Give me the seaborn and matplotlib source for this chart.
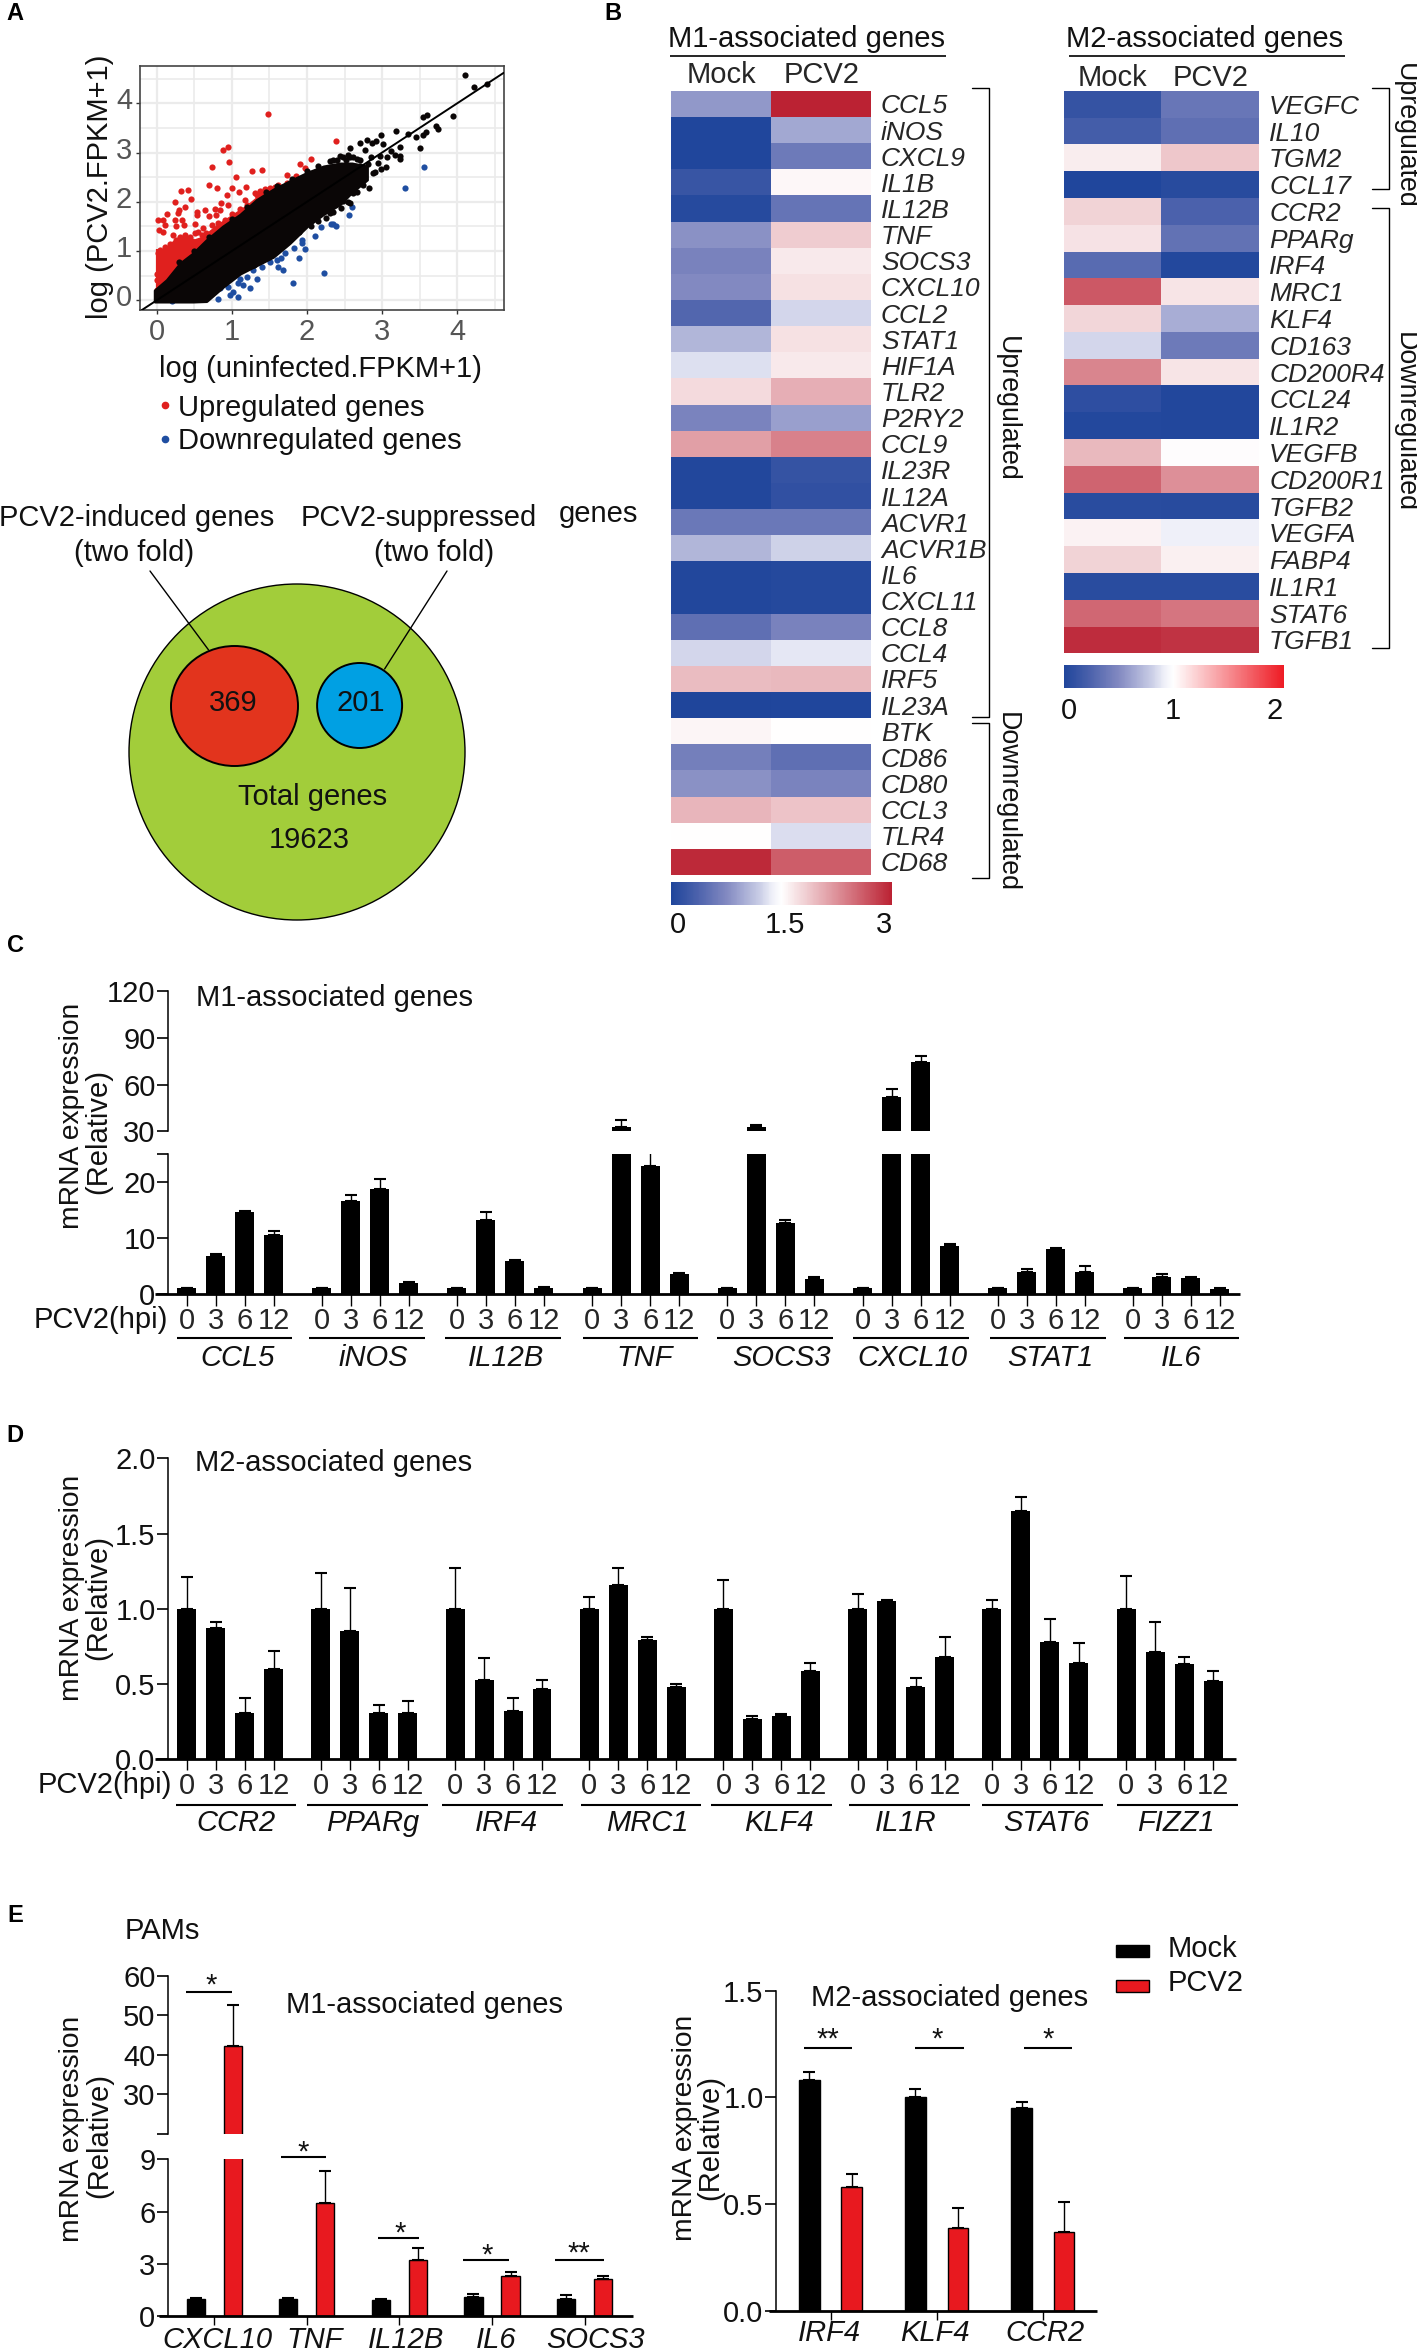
import matplotlib
matplotlib.use('Agg')
import matplotlib.pyplot as plt
from matplotlib.colors import LinearSegmentedColormap, Normalize
from matplotlib.cm import ScalarMappable
from matplotlib.patches import Ellipse, Rectangle
from matplotlib.transforms import ScaledTranslation
import seaborn as sns
import pandas as pd

W, H = 1417, 2351

# panel A scatter
red_x = [1.48, 2.39, .95, .88, .96, .73, 1.40, 1.27, 1.05, 2.06, 1.91, 1.98, 1.74, 1.85, 1.73, .70, .80, 1.0, 1.19, .32, .42, 1.10, .46, .93, .24, .38, 1.18,
         1.31, 1.37, 1.44, 1.51, 1.57, 1.62, 1.34, 1.42, 1.48, 1.54, 1.40, 1.46,
         .30, .28, .13, .53, .54, .64, .69, .77, .86, .95, .84, .79, 1.0, 1.11, 1.20, 1.15, .97, 1.06, .24, .33, .08, .02, .11, .03, .08, .26, .36, .51, .62, .55, .73, .82, .77, .91, .51, .60, .66,
         .22, .31, .37, .44, .26, .35, .42, .17, .04, .11, .02, .22, .13, .31, .46, .55, .06, .15, .04, .13, .22, 0, .08, .17, 0, .08, 0, .28]
red_y = [3.79, 3.24, 3.11, 3.05, 2.80, 2.71, 2.64, 2.62, 2.51, 2.87, 2.77, 2.68, 2.55, 2.53, 2.38, 2.34, 2.28, 2.29, 2.30, 2.21, 2.23, 2.19, 2.06, 2.14, 1.99, 1.90, 2.04,
         2.18, 2.22, 2.25, 2.27, 2.31, 2.34, 2.14, 2.16, 2.18, 2.20, 2.07, 2.10,
         1.83, 1.78, 1.76, 1.80, 1.74, 1.83, 1.72, 1.86, 1.97, 1.93, 1.83, 1.73, 1.75, 1.86, 1.93, 1.76, 1.63, 1.69, 1.63, 1.63, 1.63, 1.63, 1.53, 1.42, 1.39, 1.51, 1.53, 1.54, 1.46, 1.39, 1.53, 1.56, 1.42, 1.63, 1.36, 1.32, 1.36,
         1.32, 1.29, 1.32, 1.29, 1.22, 1.15, 1.17, 1.15, 1.02, 1.08, .95, 1.08, .98, 1.05, .98, 1.15, .81, .85, .68, .71, .78, .54, .61, .64, .41, .37, .20, .88]
# solid red area along the cloud
red_area_x = [-.02, .1, .2, .3, .4, .5, .6, .8, 1.0, 1.2, 1.4, 1.6]
red_area_hi = [1.05, 1.05, 1.2, 1.3, 1.3, 1.25, 1.3, 1.55, 1.75, 1.95, 2.2, 2.33]
red_area_lo = [.1, .1, .4, .6, .8, .9, 1.0, 1.2, 1.4, 1.6, 1.9, 2.1]
blue_x = [2.34, 2.19, 2.11, 1.94, 1.94, 1.97, 1.83, 1.90, 2.23, 1.81, 1.71, 1.66, 1.60, 1.51, 1.68, 1.62, 1.40, 1.28, 1.33, 1.20, 1.11, 1.24, 1.08, .95, .84, 1.08, .97, .82, .64, .51, .31, .20, 1.02, 1.15, 3.56, 3.31, 2.60, 2.56, 2.32, 2.39]
blue_y = [1.54, 1.48, 1.31, 1.22, 1.16, 1.05, 1.07, .85, .56, .35, .95, .85, .82, .78, .61, .68, .68, .61, .44, .47, .44, .24, .34, .27, .24, .07, .10, .03, .14, .07, .03, -.02, .17, .31, 2.71, 2.28, 1.89, 1.74, 1.54, 1.51]
black_x = [4.11, 4.22, 4.40, 3.95, 3.54, 3.60, 3.72, 3.75, 3.59, 3.55, 3.45, 3.34, 3.50, 3.19, 2.98, 2.80, 2.70, 2.87, 2.92, 3.01, 2.57, 2.77, 3.24, 3.12, 3.17, 3.24, 3.24, 3.06, 2.97, 2.95, 2.99, 2.83, 2.88, 2.75, 2.59, 2.48, 2.35, 2.61, 2.57, 2.48, 2.30, 2.70, 2.81, 2.66, 2.57, 2.52, 2.66, 2.48, 2.57, 2.44,
           2.3, 2.4, 2.52, 2.61, 2.7, 2.55, 2.35, 2.45, 2.55, 2.66, 2.75, 2.25, 2.15, 1.9, 2.05, 1.7, 1.5, 1.3, 1.45, 1.6, 1.8, 2.0, 2.15, 1.2, 1.0, .7, .5, .3, 2.9, 3.05, 2.85]
black_y = [4.57, 4.33, 4.39, 3.74, 3.72, 3.76, 3.54, 3.47, 3.42, 3.35, 3.32, 3.37, 3.09, 3.43, 3.36, 3.26, 3.19, 3.19, 3.23, 3.17, 3.09, 3.05, 3.12, 3.03, 2.96, 2.86, 2.94, 2.90, 2.93, 2.78, 2.66, 2.28, 2.59, 2.52, 2.72, 2.90, 2.85, 2.18, 1.97, 2.01, 1.77, 2.72, 2.76, 2.86, 2.90, 2.59, 2.55, 2.31, 2.38, 2.93,
           2.82, 2.85, 2.84, 2.9, 2.85, 2.95, 1.8, 1.88, 2.0, 2.2, 2.35, 1.68, 1.6, 1.38, 1.5, 1.12, .9, .72, 2.2, 2.32, 2.47, 2.63, 2.72, 1.9, 1.65, 1.28, 1.0, .78, 2.6, 2.7, 2.9]
# outline of the solid black cloud
cloud_x = [-.03, .13, .31, .48, .66, .88, 1.11, 1.33, 1.55, 1.77, 2.0, 2.22, 2.44, 2.6, 2.8]
cloud_hi = [.20, .41, .75, .95, 1.22, 1.50, 1.74, 2.04, 2.25, 2.42, 2.59, 2.72, 2.78, 2.78, 2.72]
cloud_lo = [-.03, -.03, -.03, -.03, -.02, .27, .54, .71, .88, 1.16, 1.50, 1.75, 1.95, 2.2, 2.45]

# panel B heatmaps
m1_genes = ['CCL5', 'iNOS', 'CXCL9', 'IL1B', 'IL12B', 'TNF', 'SOCS3', 'CXCL10', 'CCL2', 'STAT1', 'HIF1A', 'TLR2', 'P2RY2', 'CCL9', 'IL23R', 'IL12A', 'ACVR1', 'ACVR1B', 'IL6', 'CXCL11', 'CCL8', 'CCL4', 'IRF5', 'IL23A', 'BTK', 'CD86', 'CD80', 'CCL3', 'TLR4', 'CD68']
m1_mock = [.85, .02, .02, .2, .06, .8, .68, .75, .4, 1.05, 1.3, 1.75, .7, 2.15, .03, .03, .58, 1.05, .03, .03, .5, 1.25, 1.95, 0, 1.56, .65, .8, 2.0, 1.5, 2.95]
m1_pcv2 = [3.0, .95, .6, 1.55, .55, 1.85, 1.65, 1.7, 1.25, 1.7, 1.65, 2.05, .9, 2.35, .18, .15, .58, 1.22, .05, .05, .68, 1.33, 1.98, .02, 1.5, .5, .7, 1.9, 1.28, 2.6]
m2_genes = ['VEGFC', 'IL10', 'TGM2', 'CCL17', 'CCR2', 'PPARg', 'IRF4', 'MRC1', 'KLF4', 'CD163', 'CD200R4', 'CCL24', 'IL1R2', 'VEGFB', 'CD200R1', 'TGFB2', 'VEGFA', 'FABP4', 'IL1R1', 'STAT6', 'TGFB1']
m2_mock = [.12, .2, 1.08, .01, 1.2, 1.13, .3, 1.75, 1.18, .83, 1.55, .08, .03, 1.32, 1.7, .06, 1.06, 1.2, .06, 1.68, 1.95]
m2_pcv2 = [.38, .33, 1.25, .05, .24, .35, .03, 1.12, .66, .4, 1.12, .02, .02, 1.01, 1.5, .05, .92, 1.07, .06, 1.62, 1.92]

# panel C
hpi = ['0', '3', '6', '12']
c_genes = ['CCL5', 'iNOS', 'IL12B', 'TNF', 'SOCS3', 'CXCL10', 'STAT1', 'IL6']
c_vals = [[1, 6.7, 14.6, 10.6], [1, 16.6, 18.8, 1.9], [1, 13.3, 5.9, 1.1], [1, 32.5, 22.8, 3.5],
          [1, 32.5, 12.7, 2.6], [1, 52.2, 74.5, 8.5], [1, 4.0, 8.0, 4.0], [1, 3.1, 2.9, .9]]
c_tops = [[1.1, 7.2, 14.8, 11.2], [1.1, 17.7, 20.6, 2.1], [1.1, 14.6, 6.1, 1.2], [1.1, 37.3, 27, 3.7],
          [1.1, 34, 13.2, 3.0], [1.1, 57.3, 78.4, 8.9], [1.1, 4.4, 8.3, 5.0], [1.1, 3.5, 3.0, 1.0]]

# panel D
d_genes = ['CCR2', 'PPARg', 'IRF4', 'MRC1', 'KLF4', 'IL1R', 'STAT6', 'FIZZ1']
d_vals = [[1, .87, .31, .60], [1, .85, .31, .31], [1, .53, .32, .47], [1, 1.16, .79, .48],
          [1, .27, .29, .59], [1, 1.05, .48, .68], [1, 1.65, .78, .64], [1, .71, .63, .52]]
d_tops = [[1.21, .91, .41, .72], [1.24, 1.14, .36, .39], [1.27, .67, .41, .53], [1.08, 1.27, .81, .50],
          [1.19, .29, .30, .64], [1.10, 1.06, .54, .81], [1.06, 1.74, .93, .77], [1.22, .91, .68, .59]]

# panel E
groups = ['Mock', 'PCV2']
e1_genes = ['CXCL10', 'TNF', 'IL12B', 'IL6', 'SOCS3']
e1_mock = [1, 1, .9, 1.1, 1.0]
e1_pcv2 = [42.3, 6.5, 3.2, 2.3, 2.1]
e1_mock_top = [1.05, 1.05, 1.0, 1.25, 1.2]
e1_pcv2_top = [52.6, 8.3, 3.9, 2.5, 2.3]
e2_genes = ['IRF4', 'KLF4', 'CCR2']
e2_mock = [1.08, 1.0, .95]
e2_pcv2 = [.58, .39, .37]
e2_mock_top = [1.12, 1.04, .98]
e2_pcv2_top = [.64, .48, .51]

sns.set_theme(style='ticks')
plt.rcParams['font.family'] = ['Liberation Sans', 'DejaVu Sans']
plt.rcParams['font.size'] = 21
plt.rcParams['text.color'] = '#111111'

FS = 21
RED = '#e8191f'
fig = plt.figure(figsize=(W / 100, H / 100), dpi=100)
fig.patch.set_facecolor('white')


def px_axes(x0, ytop, x1, ybot):
    return fig.add_axes([x0 / W, 1 - ybot / H, (x1 - x0) / W, (ybot - ytop) / H])


# everything that is not a chart mark goes on this overlay, in picture pixels
over = fig.add_axes([0, 0, 1, 1], zorder=10)
over.set_xlim(0, W)
over.set_ylim(H, 0)
over.axis('off')


def txt(x, y, s, size=FS, ha='center', **kw):
    over.text(x, y, s, fontsize=size, ha=ha, va='center', **kw)


def hline(x0, x1, y, lw=1.2, color='black'):
    over.plot([x0, x1], [y, y], color=color, lw=lw, solid_capstyle='butt')


def bracket(x0, x1, y0, y1):
    over.plot([x0, x1, x1, x0], [y0, y0, y1, y1], color='black', lw=1.0)


def letters(x, y, s):
    txt(x, y, s, size=17, fontweight='bold', color='black')


def ylabels(x1, y1, x2, y2):
    txt(x1, y1, 'mRNA expression', size=20.3, rotation=90)
    txt(x2, y2, '(Relative)', rotation=90)


def tall(genes, columns, names):
    rows = []
    for i, g in enumerate(genes):
        for name, col in zip(names, columns):
            rows.append({'gene': g, 'level': name, 'value': col[i]})
    return pd.DataFrame(rows)


def bars(ax, df, names, colors, width, gap, edge=None):
    sns.barplot(data=df, x='gene', y='value', hue='level', hue_order=names, palette=colors,
                width=width, gap=gap, saturation=1, errorbar=None, legend=False, ax=ax,
                edgecolor=edge, linewidth=1.0 if edge else 0)
    ax.set_xlabel('')
    ax.set_ylabel('')


def errs(ax, vals, tops, capsize=4):
    patches = sorted(ax.patches, key=lambda p: p.get_x())
    for p, v, t in zip(patches, vals, tops):
        ax.errorbar(p.get_x() + p.get_width() / 2, v, yerr=[[0], [t - v]], color='black',
                    elinewidth=1.0, capsize=capsize, capthick=1.5)
    return [p.get_x() + p.get_width() / 2 for p in patches]


def yaxis_style(ax):
    ax.patch.set_alpha(0)
    sns.despine(ax=ax, top=True, right=True, bottom=True)
    ax.spines['left'].set_linewidth(1.1)
    ax.spines['left'].set_color('black')
    ax.tick_params(axis='y', length=8, width=1.2, pad=1, labelsize=FS, color='black', labelcolor='#111111')


# ---------- A
ax = px_axes(140.4, 66, 503.6, 310)
ax.set_xlim(-.22, 4.62)
ax.set_ylim(-.2, 4.76)
ax.set_axisbelow(True)
ax.set_xticks([0, 1, 2, 3, 4])
ax.set_yticks([0, 1, 2, 3, 4])
ax.set_xticks([.5, 1.5, 2.5, 3.5, 4.5], minor=True)
ax.set_yticks([.5, 1.5, 2.5, 3.5, 4.5], minor=True)
ax.grid(True, which='major', color='#ebebeb', lw=1.6)
ax.grid(True, which='minor', color='#ebebeb', lw=1.2)
ax.tick_params(which='minor', length=0)
ax.tick_params(which='major', length=3, width=1, color='#333333', labelcolor='#555555', labelsize=FS, pad=3)
# the y labels sit a little above their ticks in the original
for lab in ax.get_yticklabels():
    lab.set_transform(lab.get_transform() + ScaledTranslation(0, 5 / 100, fig.dpi_scale_trans))
ax.fill_between(red_area_x, red_area_lo, red_area_hi, color='#e0201e', lw=0, zorder=2)
sns.scatterplot(x=red_x, y=red_y, color='#e0201e', s=20, linewidth=0, ax=ax, zorder=2)
sns.scatterplot(x=blue_x, y=blue_y, color='#1f4ea1', s=20, linewidth=0, ax=ax, zorder=2)
ax.fill_between(cloud_x, cloud_lo, cloud_hi, color='#0a0606', lw=2, zorder=3)
sns.scatterplot(x=black_x, y=black_y, color='#0a0606', s=20, linewidth=0, ax=ax, zorder=3)
ax.axline((0, 0), slope=1, color='black', lw=1.4, zorder=4)
for s in ax.spines.values():
    s.set_color('#444444')
    s.set_linewidth(1.2)
txt(100, 187, 'log (PCV2.FPKM+1)', rotation=90)
txt(320, 369, 'log (uninfected.FPKM+1)')
over.plot([164.6], [405], 'o', color='#e0201e', ms=4.5)
over.plot([164.6], [439], 'o', color='#1f4ea1', ms=4.5)
txt(178, 408, 'Upregulated genes', ha='left')
txt(178, 441, 'Downregulated genes', ha='left')
txt(137, 518, 'PCV2-induced genes')
txt(134, 553, '(two fold)')
txt(419, 518, 'PCV2-suppressed')
txt(434, 553, '(two fold)')
txt(559, 514, 'genes', ha='left')
over.add_patch(Ellipse((297, 752), 336, 336, fc='#a2cd3a', ec='black', lw=1.0))
over.add_patch(Ellipse((234.5, 706), 127, 120, fc='#e2341d', ec='black', lw=1.4))
over.add_patch(Ellipse((359.6, 705.5), 85, 85, fc='#00a0e3', ec='black', lw=1.4))
over.plot([150, 208.6], [571, 650], color='black', lw=1.0)
over.plot([447, 384.6], [571, 669], color='black', lw=1.0)
txt(233, 703, '369')
txt(361, 703, '201')
txt(312.7, 797, 'Total genes')
txt(309, 840, '19623')
letters(15, 14, 'A')

# ---------- B
blue_side = [(0, '#1f459b'), (.12, '#4c62ac'), (.25, '#8289c1'), (.4, '#c9cde6'), (.46, '#f0f1f9'), (.5, 'white')]
heat_cmap = LinearSegmentedColormap.from_list('heat', blue_side + [(1, '#bb2233')])
bar2_cmap = LinearSegmentedColormap.from_list('bar2', blue_side + [(1, '#ee1c25')])


def heat(box, genes, mock, pcv2, vmax, xpad):
    ax = px_axes(*box)
    df = pd.DataFrame({'Mock': mock, 'PCV2': pcv2}, index=genes)
    sns.heatmap(df, cmap=heat_cmap, vmin=0, vmax=vmax, cbar=False, linewidths=0, ax=ax)
    ax.yaxis.tick_right()
    ax.xaxis.tick_top()
    ax.tick_params(axis='both', length=0, labelsize=FS)
    ax.tick_params(axis='y', pad=7, labelsize=19)
    ax.tick_params(axis='x', pad=xpad)
    ax.set_yticklabels(genes, rotation=0, style='italic')
    ax.set_xticklabels(['Mock', 'PCV2'], rotation=0)
    return ax


heat((671.3, 90.9, 871.3, 875), m1_genes, m1_mock, m1_pcv2, 3, 1.4)
heat((1063.5, 90.9, 1259.4, 653.3), m2_genes, m2_mock, m2_pcv2, 2, -.8)
cax = px_axes(671, 882.4, 892, 905.5)
cb = fig.colorbar(ScalarMappable(Normalize(0, 3), heat_cmap), cax=cax, orientation='horizontal')
cb.outline.set_visible(False)
cb.set_ticks([])
cax = px_axes(1063.5, 665.5, 1283.5, 688.5)
cb = fig.colorbar(ScalarMappable(Normalize(0, 2), bar2_cmap), cax=cax, orientation='horizontal')
cb.outline.set_visible(False)
cb.set_ticks([])
txt(677.6, 925, '0')
txt(785, 925, '1.5')
txt(884, 925, '3')
txt(1069, 711, '0')
txt(1172.5, 711, '1')
txt(1275, 711, '2')
txt(806, 39, 'M1-associated genes')
hline(670, 946, 56)
txt(1205, 39, 'M2-associated genes')
hline(1069, 1345, 56)
bracket(972, 988.5, 88, 717)
bracket(972, 988.5, 723, 878)
bracket(1372, 1388.5, 88, 189)
bracket(1372, 1388.5, 208, 648)
txt(1007, 409, 'Upregulated', size=19.3, rotation=270)
txt(1007, 802, 'Downregulated', size=19.3, rotation=270)
txt(1405, 136, 'Upregulated', size=19.3, rotation=270)
txt(1405, 422, 'Downregulated', size=19.3, rotation=270)
letters(613, 14, 'B')

# ---------- C, broken axis
c_long = tall(c_genes, [[v[i] for v in c_vals] for i in range(4)], hpi)
flat_c = [x for row in c_vals for x in row]
flat_ct = [x for row in c_tops for x in row]
c_lims = (-.459, 7.47)
c_top = px_axes(168, 991, 1240, 1131.3)
bars(c_top, c_long, hpi, ['black'] * 4, .858, .345)
errs(c_top, flat_c, flat_ct)
c_top.set_xlim(*c_lims)
c_top.set_ylim(30, 120)
c_top.set_yticks([30, 60, 90, 120])
c_top.set_xticks([])
yaxis_style(c_top)
c_low = px_axes(168, 1154, 1240, 1294)
bars(c_low, c_long, hpi, ['black'] * 4, .858, .345)
c_x = errs(c_low, flat_c, flat_ct)
c_low.set_xlim(*c_lims)
c_low.set_ylim(0, 25)
c_low.set_yticks([0, 10, 20, 25])
c_low.set_yticklabels(['0', '10', '20', ''])
yaxis_style(c_low)
c_low.set_xticks(c_x)
c_low.set_xticklabels(hpi * 8)
c_low.tick_params(axis='x', length=8.6, width=1.0, pad=1, labelsize=FS, color='black')
hline(155, 1240, 1294, lw=2)
txt(168, 1320.5, 'PCV2(hpi)', ha='right')
txt(334, 998, 'M1-associated genes')
ylabels(72, 1116, 98.5, 1132)
c_under = [(176.6, 292), (308.5, 424.5), (445, 561), (583, 698), (717, 832.5), (853, 968.5), (990, 1106), (1124, 1239)]
c_label_x = [238, 373, 506, 645, 781, 912, 1050, 1181.6]
for (a, b), lx, g in zip(c_under, c_label_x, c_genes):
    hline(a, b, 1338, lw=1.5)
    txt(lx, 1358, g, style='italic')
letters(15, 945, 'C')

# ---------- D
d_long = tall(d_genes, [[v[i] for v in d_vals] for i in range(4)], hpi)
d_ax = px_axes(168, 1458.3, 1235.5, 1759.3)
bars(d_ax, d_long, hpi, ['black'] * 4, .864, .345)
d_x = errs(d_ax, [x for r in d_vals for x in r], [x for r in d_tops for x in r])
d_ax.set_xlim(-.462, 7.49)
d_ax.set_ylim(0, 2.0)
d_ax.set_yticks([0, .5, 1, 1.5, 2])
d_ax.set_yticklabels(['0.0', '0.5', '1.0', '1.5', '2.0'])
yaxis_style(d_ax)
d_ax.set_xticks(d_x)
d_ax.set_xticklabels(hpi * 8)
d_ax.tick_params(axis='x', length=8, width=1.0, pad=1, labelsize=FS, color='black')
hline(155, 1235.5, 1759.3, lw=2)
txt(172, 1785, 'PCV2(hpi)', ha='right')
txt(334, 1463, 'M2-associated genes')
ylabels(72, 1587.5, 98.5, 1598)
d_under = [(176, 296), (307, 428), (442, 563), (581, 701), (711, 832), (849, 970), (982, 1103), (1117, 1238)]
d_label_x = [236, 373, 506, 647, 779, 905.5, 1046, 1176]
for (a, b), lx, g in zip(d_under, d_label_x, d_genes):
    hline(a, b, 1805, lw=1.5)
    txt(lx, 1823, g, style='italic')
letters(15, 1435, 'D')

# ---------- E left, broken axis
pal = ['black', RED]
e1_long = tall(e1_genes, [e1_mock, e1_pcv2], groups)
e1_vals = e1_mock + e1_pcv2
e1_tops = e1_mock_top + e1_pcv2_top
order = sorted(range(10), key=lambda i: (i % 5, i // 5))
e1_vals = [e1_vals[i] for i in order]
e1_tops = [e1_tops[i] for i in order]
e_top = px_axes(168, 1976, 632.7, 2133.7)
bars(e_top, e1_long, groups, pal, .8, .51, edge='black')
errs(e_top, e1_vals, e1_tops)
e_top.set_xlim(-.5, 4.52)
e_top.set_ylim(20, 60)
e_top.set_yticks([20, 30, 40, 50, 60])
e_top.set_yticklabels(['', '30', '40', '50', '60'])
e_top.set_xticks([])
yaxis_style(e_top)
e_low = px_axes(168, 2159.3, 632.7, 2316)
bars(e_low, e1_long, groups, pal, .8, .51, edge='black')
errs(e_low, e1_vals, e1_tops)
e_low.set_xlim(-.5, 4.52)
e_low.set_ylim(0, 9)
e_low.set_yticks([0, 3, 6, 9])
yaxis_style(e_low)
e_low.set_xticks(range(5))
e_low.set_xticklabels([])
e_low.tick_params(axis='x', length=6.5, width=1.0, color='black')
hline(159, 632.7, 2316, lw=2)
for lx, g in zip([217, 315, 406, 496, 595], e1_genes):
    txt(lx, 2340, g, style='italic')
for a, b, y, sx, sy, s in [(186, 232, 1992, 211, 1986, '*'), (281, 326, 2157.3, 303, 2153, '*'), (378, 419, 2238, 400, 2234, '*'),
                           (463, 509, 2260, 487, 2256, '*'), (555, 604, 2260, 579, 2254, '**')]:
    hline(a, b, y, lw=1.5)
    txt(sx, sy, s)
txt(162, 1931, 'PAMs')
txt(424, 2005, 'M1-associated genes')
ylabels(72, 2129, 99.5, 2135)
letters(15, 1915, 'E')

# ---------- E right
e2_long = tall(e2_genes, [e2_mock, e2_pcv2], groups)
e2_vals = e2_mock + e2_pcv2
e2_tops = e2_mock_top + e2_pcv2_top
order = sorted(range(6), key=lambda i: (i % 3, i // 3))
e_r = px_axes(776, 1990.7, 1097, 2310.7)
bars(e_r, e2_long, groups, pal, .8, .51, edge='black')
errs(e_r, [e2_vals[i] for i in order], [e2_tops[i] for i in order])
e_r.set_xlim(-.514, 2.51)
e_r.set_ylim(0, 1.5)
e_r.set_yticks([0, .5, 1, 1.5])
e_r.set_yticklabels(['0.0', '0.5', '1.0', '1.5'])
yaxis_style(e_r)
e_r.set_xticks(range(3))
e_r.set_xticklabels([])
e_r.tick_params(axis='x', length=6.5, width=1.0, color='black')
hline(769, 1097, 2310.7, lw=2)
for lx, g in zip([829, 934.5, 1045], e2_genes):
    txt(lx, 2333, g, style='italic')
for a, b, sx, s in [(804, 852, 828, '**'), (915, 964, 937, '*'), (1024, 1072, 1048, '*')]:
    hline(a, b, 2048.3, lw=1.5)
    txt(sx, 2040, s)
txt(949.4, 1998, 'M2-associated genes')
ylabels(685, 2127.5, 710.6, 2137.5)
over.add_patch(Rectangle((1116, 1945), 33, 12, fc='black', ec='black', lw=1))
over.add_patch(Rectangle((1116, 1980), 33, 12, fc=RED, ec='black', lw=1))
txt(1167.5, 1949, 'Mock', ha='left')
txt(1167.5, 1983, 'PCV2', ha='left')

fig.savefig('out.png', dpi=100)
